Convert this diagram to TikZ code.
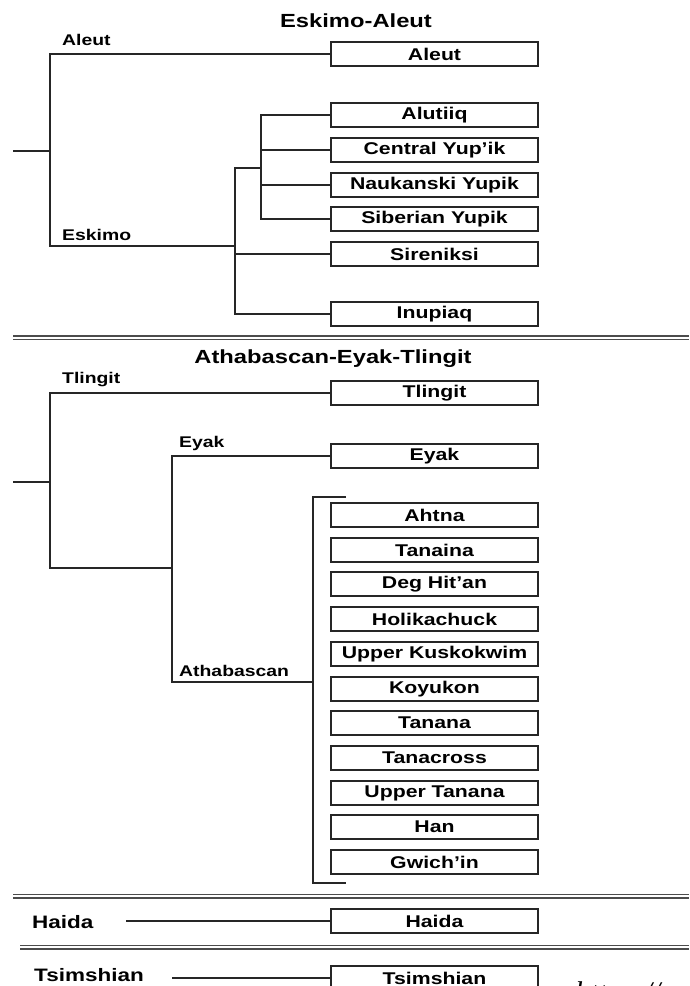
\documentclass[tikz,border=0pt]{standalone}
\usepackage{fontspec}
\setmainfont[FakeStretch=1.25]{Liberation Sans}
\newfontfamily\webfont{Liberation Serif}
\usetikzlibrary{positioning}
\newcommand\langfont{\bfseries\fontsize{17}{17}\selectfont}
\newcommand\brfont{\bfseries\fontsize{15.5}{15.5}\selectfont}
\newcommand\ttlfont{\bfseries\fontsize{19}{19}\selectfont}
\newcommand\grpfont{\bfseries\fontsize{18}{18}\selectfont}
\begin{document}
\begin{tikzpicture}[x=1pt,y=-1pt,
  lang/.style={draw=black!85,line width=2pt,minimum width=207pt,
               minimum height=24pt,inner sep=0pt,font=\langfont},
  branch/.style={anchor=base west,inner sep=0pt,font=\brfont},
  ttl/.style={anchor=base,inner sep=0pt,font=\ttlfont},
  grp/.style={anchor=base west,inner sep=0pt,font=\grpfont},
  link/.style={draw=black!85,line width=1.8pt},
  sep/.style={draw=black!70,line width=1.5pt,double=white,double distance=2pt}]
  \useasboundingbox (0,0) rectangle (689,986);
  \clip (0,0) rectangle (689,986);

  % Eskimo-Aleut
  \node[ttl] (ttlea) at (356,27.5) {Eskimo-Aleut};
  \node[lang] (aleut) at (434.5,54) {Aleut};
  \foreach \n/\t/\y in {alutiiq/Alutiiq/115,central/Central Yup'ik/150,
      naukanski/Naukanski Yupik/185,siberian/Siberian Yupik/219,
      sireniksi/Sireniksi/254,inupiaq/Inupiaq/314}
    \node[lang] (\n) at (434.5,\y) {\t};
  \coordinate (rootea) at (13,151);
  \coordinate (forkea) at (50,151);
  \coordinate (eskimo) at (50,246);
  \coordinate (eskjoin) at (235,246);
  \coordinate (eskfork) at (235,168);
  \coordinate (yupik) at (261,168);
  \draw[link] (rootea) -- (forkea);
  \draw[link] (aleut.west) -| (eskimo) -- (eskjoin);
  \draw[link] (inupiaq.west) -| (eskfork) -- (yupik);
  \draw[link] (sireniksi.west) -- (sireniksi.west -| eskfork);
  \draw[link] (alutiiq.west) -| (yupik);
  \draw[link] (siberian.west) -| (yupik);
  \draw[link] (central.west) -- (central.west -| yupik);
  \draw[link] (naukanski.west) -- (naukanski.west -| yupik);
  \node[branch] (lbaleut) at (62,45) {Aleut};
  \node[branch] (lbeskimo) at (62,240) {Eskimo};

  \draw[sep] (13,337.5) -- (689,337.5);

  % Athabascan-Eyak-Tlingit
  \node[ttl] (ttlaet) at (333,363) {Athabascan-Eyak-Tlingit};
  \node[lang] (tlingit) at (434.5,393) {Tlingit};
  \node[lang] (eyak) at (434.5,456) {Eyak};
  \foreach \n/\t/\y in {ahtna/Ahtna/515,tanaina/Tanaina/550,
      deg/Deg Hit'an/584,holikachuck/Holikachuck/619,
      kuskokwim/Upper Kuskokwim/654,koyukon/Koyukon/689,tanana/Tanana/723,
      tanacross/Tanacross/758,uppertanana/Upper Tanana/793,han/Han/827,
      gwichin/Gwich'in/862}
    \node[lang] (\n) at (434.5,\y) {\t};
  \coordinate (rootaet) at (13,482);
  \coordinate (forkaet) at (50,482);
  \coordinate (nadene) at (50,568);
  \coordinate (eyakfork) at (172,568);
  \coordinate (athfork) at (172,682);
  \coordinate (bracket) at (313,682);
  \coordinate (brtop) at (346,497);
  \coordinate (brbot) at (346,883);
  \draw[link] (rootaet) -- (forkaet);
  \draw[link] (tlingit.west) -| (nadene) -- (eyakfork);
  \draw[link] (eyak.west) -| (athfork) -- (bracket);
  \draw[link] (brtop) -| (bracket) |- (brbot);
  \node[branch] (lbtlingit) at (62,383) {Tlingit};
  \node[branch] (lbeyak) at (179,447) {Eyak};
  \node[branch] (lbath) at (179,676) {Athabascan};

  \draw[sep] (13,896) -- (689,896);

  % Haida
  \node[grp] (lbhaida) at (32,928) {Haida};
  \node[lang] (haida) at (434.5,921) {Haida};
  \coordinate (haidastart) at (126,921);
  \draw[link] (haidastart) -- (haida.west);

  \draw[sep] (20,947) -- (689,947);

  % Tsimshian
  \node[grp] (lbtsim) at (34,981) {Tsimshian};
  \node[lang] (tsimshian) at (434.5,978) {Tsimshian};
  \coordinate (tsimstart) at (172,978);
  \draw[link] (tsimstart) -- (tsimshian.west);

  \node[anchor=base west,inner sep=0pt,font=\webfont\itshape\fontsize{30}{30}\selectfont]
    (url) at (575,1002) {https://};
\end{tikzpicture}
\end{document}
